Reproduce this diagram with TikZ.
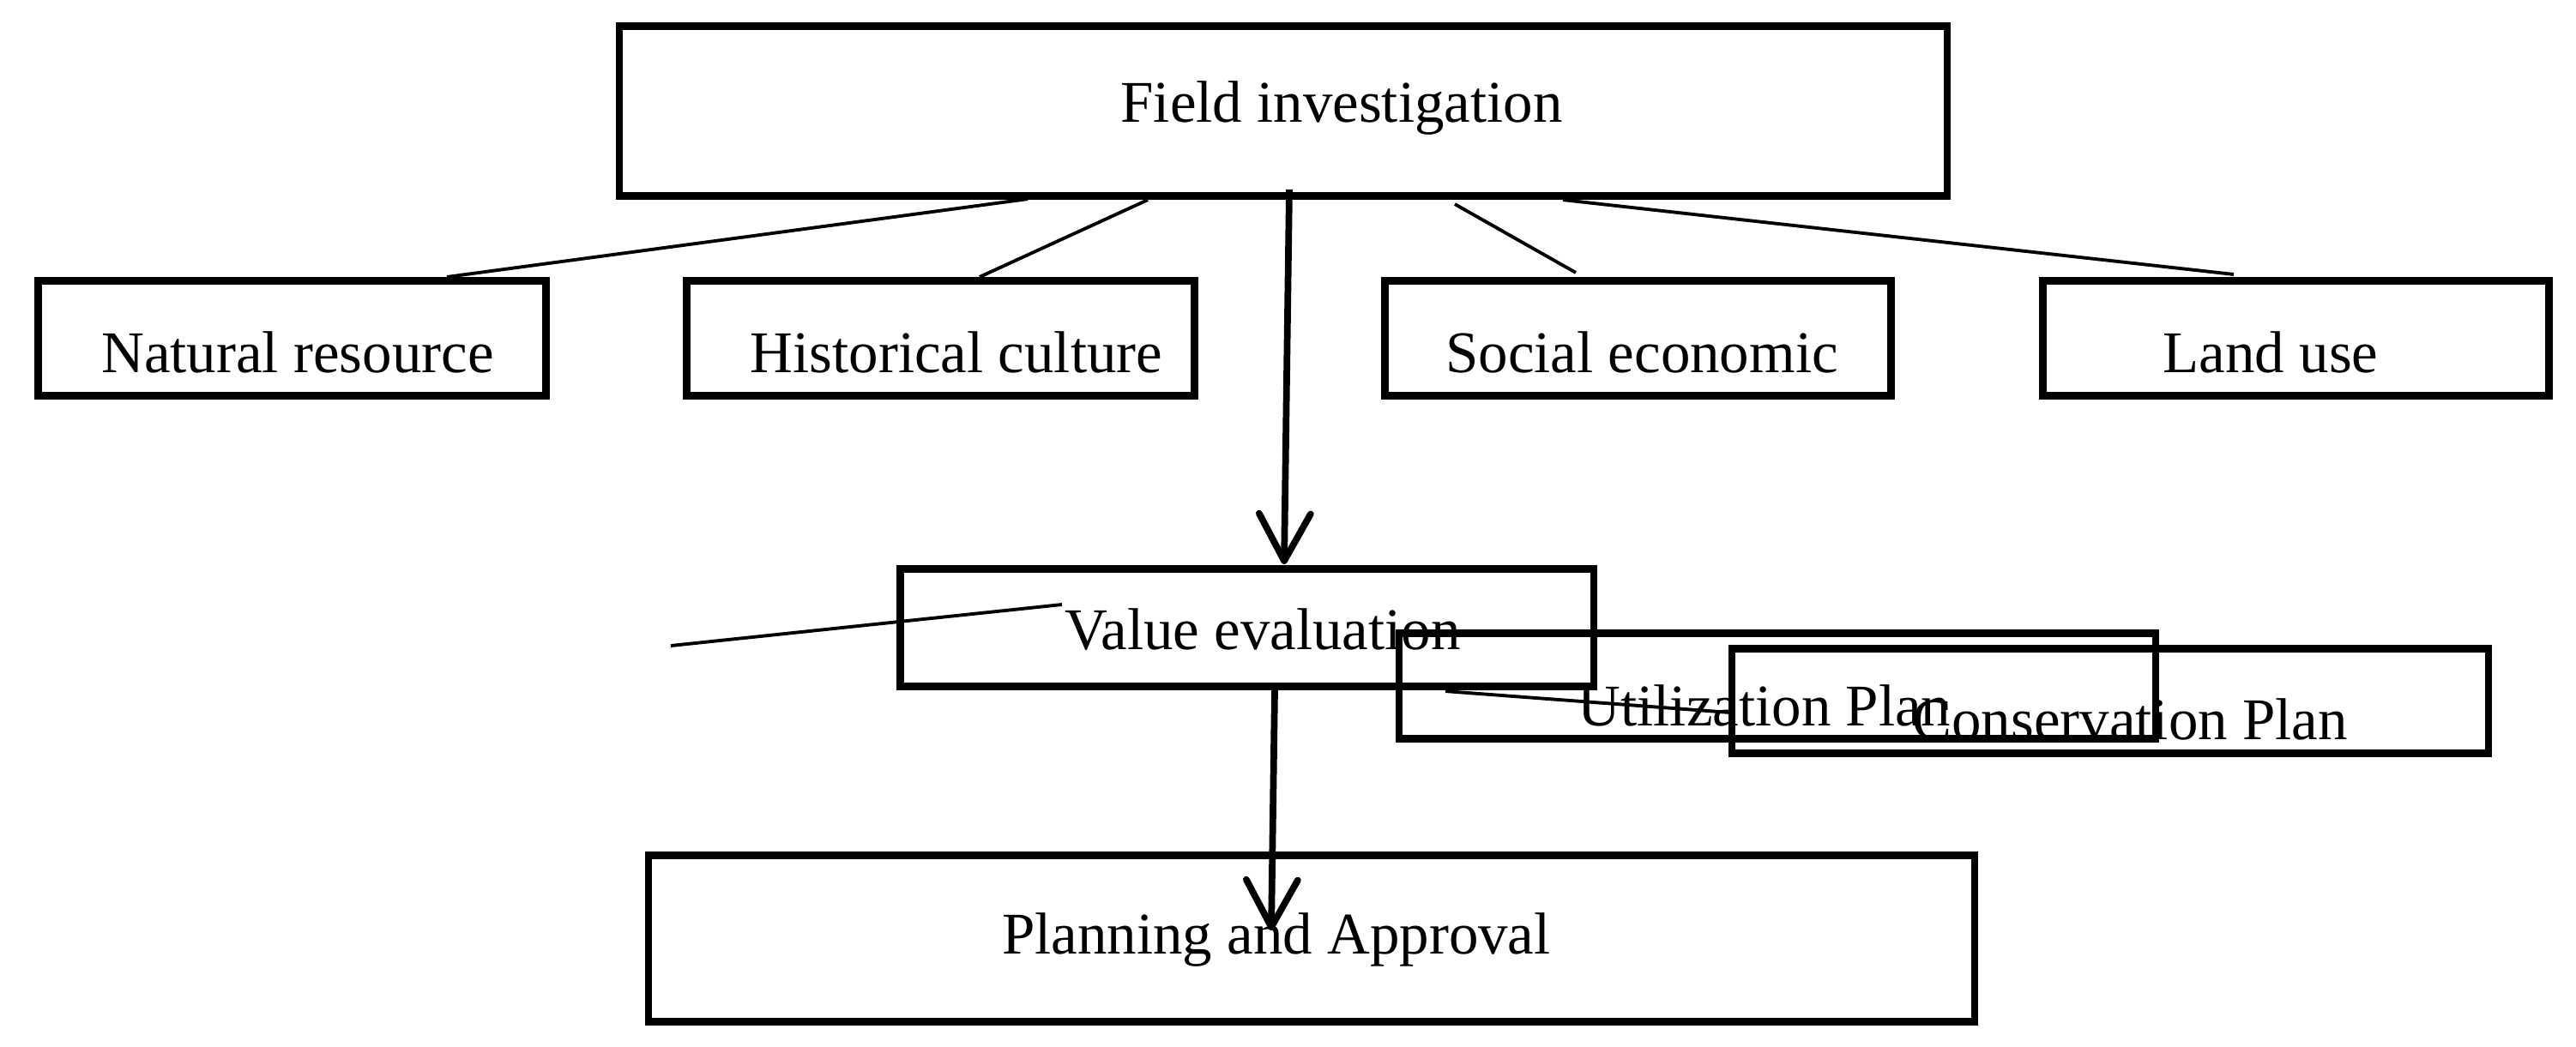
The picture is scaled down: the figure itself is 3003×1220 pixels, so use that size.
\documentclass[tikz,border=0pt]{standalone}
\usepackage{fontspec}
\setmainfont{Liberation Serif}
\usetikzlibrary{arrows.meta}
\begin{document}
\begin{tikzpicture}[x=0.01cm, y=-0.01cm,
  box/.style={draw, line width=2.4pt, inner sep=0pt, outer sep=0pt},
  lbl/.style={inner sep=0pt, anchor=base, font=\fontsize{19.6pt}{23pt}\selectfont},
  arr/.style={line width=2.2pt, -{Straight Barb[length=0.55cm, width=0.6cm, round]}},
  thinline/.style={line width=1.1pt}]
\useasboundingbox (0,0) rectangle (3003,1220);

% boxes
\node[box, minimum width=15.47cm, minimum height=1.98cm] (field) at (1496,129.5) {};
\node[box, minimum width=5.92cm, minimum height=1.34cm] (natural) at (340.5,394.5) {};
\node[box, minimum width=5.92cm, minimum height=1.34cm] (hist) at (1096.5,394.5) {};
\node[box, minimum width=5.90cm, minimum height=1.34cm] (social) at (1909.5,394.5) {};
\node[box, minimum width=5.90cm, minimum height=1.34cm] (land) at (2676.5,394.5) {};
\node[box, minimum width=8.08cm, minimum height=1.37cm] (value) at (1453.5,732) {};
\node[box, minimum width=8.81cm, minimum height=1.23cm] (util) at (2072,800) {};
\node[box, minimum width=8.81cm, minimum height=1.22cm] (cons) at (2460,817.5) {};
\node[box, minimum width=15.45cm, minimum height=1.94cm] (plan) at (1529,1094.5) {};

% labels
\node[lbl] (tfield) at (1564,142) {Field investigation};
\node[lbl] (tnatural) at (347,434) {Natural resource};
\node[lbl] (thist) at (1115,434) {Historical culture};
\node[lbl] (tsocial) at (1914,434) {Social economic};
\node[lbl] (tland) at (2647,434) {Land use};
\node[lbl] (tvalue) at (1472,757) {Value evaluation};
\node[lbl] (tutil) at (2057,846) {Utilization Plan};
\node[lbl] (tcons) at (2483,862) {Conservation Plan};
\node[lbl] (tplan) at (1488,1112) {Planning and Approval};

% connectors
\draw[thinline] ([shift={(-298,3.5)}]field.south) -- ([shift={(180.5,-4.5)}]natural.north);
\draw[thinline] ([shift={(-158,4.5)}]field.south) -- ([shift={(45.5,-4.5)}]hist.north);
\draw[thinline] ([shift={(200,9.5)}]field.south) -- ([shift={(-72.5,-9.5)}]social.north);
\draw[thinline] ([shift={(326,4.5)}]field.south) -- ([shift={(-72.5,-7.5)}]land.north);

\draw[arr] ([shift={(7,-7.5)}]field.south) -- ([shift={(43.5,-5.5)}]value.north);
\draw[arr] ([shift={(32.5,4.5)}]value.south) -- ([shift={(-47,87.5)}]plan.north);

\coordinate (s1) at (782,753);
\coordinate (s2) at (1238,705);
\draw[thinline] (s1) -- (s2);
\draw[thinline] ([shift={(231.5,5.5)}]value.south) -- ([shift={(-2,13.5)}]cons.west);
\end{tikzpicture}
\end{document}
